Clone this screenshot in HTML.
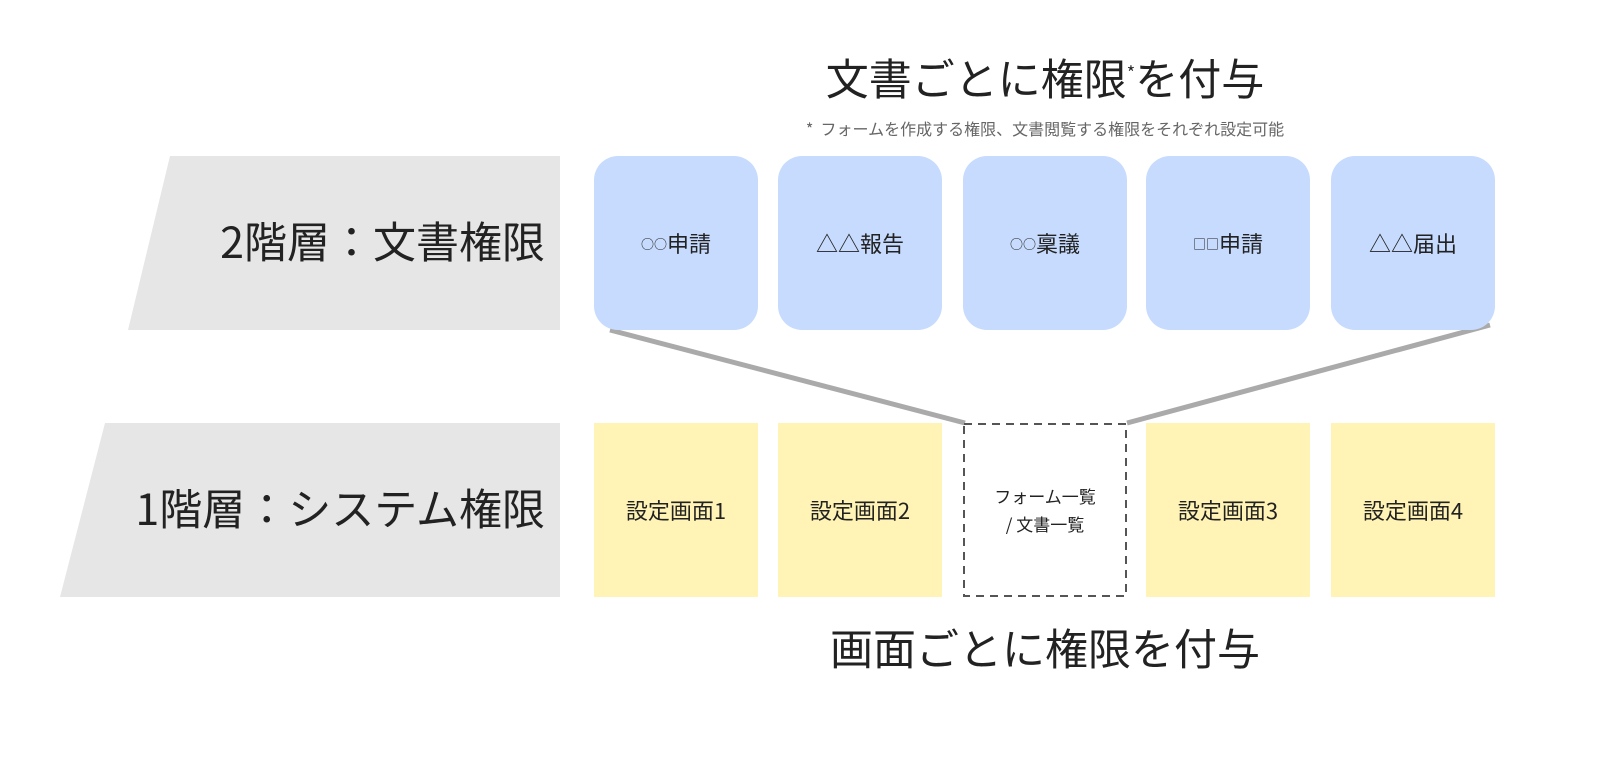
<!DOCTYPE html>
<html><head><meta charset="utf-8"><style>
body{margin:0;width:1598px;height:758px;background:#fff;position:relative;overflow:hidden;font-family:"Noto Sans CJK JP","Liberation Sans",sans-serif;color:#222}
.a{position:absolute;line-height:1.2}
.b{position:absolute;width:164px;height:174px;display:flex;align-items:center;justify-content:center;font-size:22px;text-align:center}
.blue{background:#c6dbfd;border-radius:24px;top:156px}
.yel{background:#fff4b5;top:423px}
.s{font-size:13px}
</style></head><body>
<svg class="a" style="left:0;top:0" width="1598" height="758">
<polygon points="170,156 560,156 560,330 128,330" fill="#e6e6e6"/>
<polygon points="105,423 560,423 560,597 60,597" fill="#e6e6e6"/>
<line x1="610" y1="330" x2="965" y2="423" stroke="#aaa" stroke-width="5"/>
<line x1="1490" y1="325" x2="1127" y2="423" stroke="#aaa" stroke-width="5"/>
<rect x="964" y="424" width="162" height="172" fill="#fff" stroke="#555" stroke-width="2" stroke-dasharray="8,6"/>
</svg>
<div class="a" style="left:100px;top:215px;width:445px;text-align:right;font-size:43px">2階層：文書権限</div>
<div class="a" style="left:40px;top:482px;width:505px;text-align:right;font-size:43px">1階層：システム権限</div>
<div class="a" style="left:695px;top:52px;width:700px;text-align:center;font-size:43px">文書ごとに権限<sup style="font-size:18px">*</sup>を付与</div>
<div class="a" style="left:695px;top:119px;width:700px;text-align:center;font-size:16px;color:#666">*&nbsp; フォームを作成する権限、文書閲覧する権限をそれぞれ設定可能</div>
<div class="a" style="left:695px;top:622px;width:700px;text-align:center;font-size:43px">画面ごとに権限を付与</div>
<div class="b blue" style="left:594px"><span class="s">○○</span>申請</div>
<div class="b blue" style="left:778px">△△報告</div>
<div class="b blue" style="left:963px"><span class="s">○○</span>稟議</div>
<div class="b blue" style="left:1146px"><span class="s">□□</span>申請</div>
<div class="b blue" style="left:1331px">△△届出</div>
<div class="b yel" style="left:594px">設定画面1</div>
<div class="b yel" style="left:778px">設定画面2</div>
<div class="b" style="left:963px;top:423px;font-size:17px;line-height:28px">フォーム一覧<br>/ 文書一覧</div>
<div class="b yel" style="left:1146px">設定画面3</div>
<div class="b yel" style="left:1331px">設定画面4</div>
</body></html>
